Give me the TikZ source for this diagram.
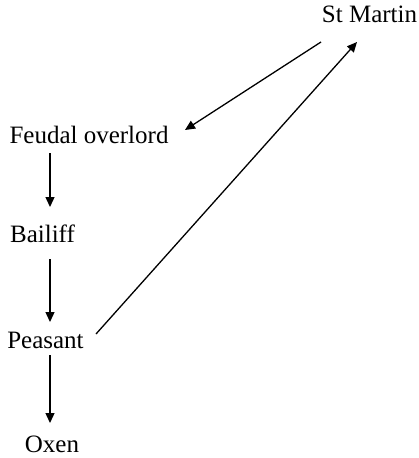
\documentclass[tikz,border=0pt]{standalone}
\usepackage{fontspec}
\setmainfont{Liberation Serif}
\usetikzlibrary{arrows.meta}
\tikzset{
  lbl/.style={inner sep=0pt, anchor=base, font=\fontsize{25}{30}\selectfont},
  arr/.style={line width=1.3pt, -{Triangle[length=10pt,width=9pt]}}
}
\begin{document}
\begin{tikzpicture}[x=1pt,y=-1pt]
\useasboundingbox (0,0) rectangle (419,458);
\node[lbl] (sm) at (369.5,22) {St Martin};
\node[lbl] (fo) at (89,143) {Feudal overlord};
\node[lbl] (ba) at (42.5,242) {Bailiff};
\node[lbl] (pe) at (45.5,348) {Peasant};
\node[lbl] (ox) at (52,452) {Oxen};
\draw[arr] ([xshift=-48.5pt,yshift=-20pt]sm.base) -- ([xshift=96pt,yshift=13pt]fo.base);
\draw[arr] ([xshift=50.5pt,yshift=14pt]pe.base) -- ([xshift=-12.5pt,yshift=-20pt]sm.base);
\draw[arr] ([xshift=-39pt,yshift=-10pt]fo.base) -- ([xshift=7.5pt,yshift=35pt]ba.base);
\draw[arr] ([xshift=7.5pt,yshift=-17pt]ba.base) -- ([xshift=4.5pt,yshift=26pt]pe.base);
\draw[arr] ([xshift=4.5pt,yshift=-7pt]pe.base) -- ([xshift=-2pt,yshift=29pt]ox.base);
\end{tikzpicture}
\end{document}
